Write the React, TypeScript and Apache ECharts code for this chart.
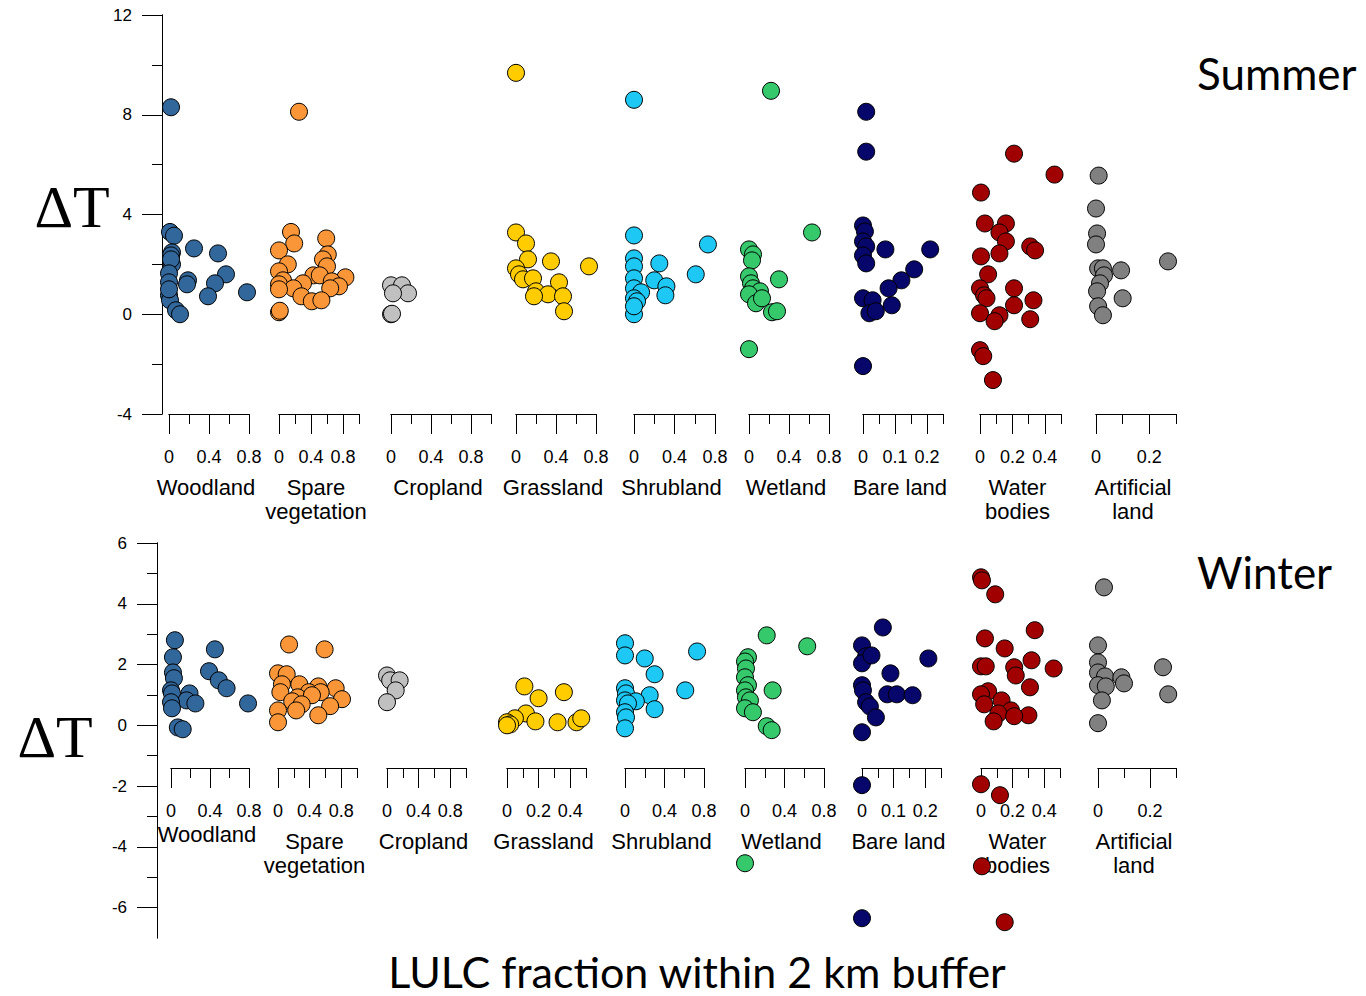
import React, { useEffect, useRef } from "react";
import * as echarts from "echarts";

// ---------------- DATA ----------------
const classNames = ["Woodland", "Spare\nvegetation", "Cropland", "Grassland", "Shrubland", "Wetland", "Bare land", "Water\nbodies", "Artificial\nland"];
const classColors = ["#32679C", "#FA9638", "#C0C0C0", "#FFCC00", "#1EC8F5", "#35C96B", "#06066B", "#A00000", "#808080"];

const summerXMax = [0.8, 1.0, 1.0, 0.8, 0.8, 0.8, 0.25, 0.5, 0.3];
const winterXMax = [0.8, 1.0, 1.0, 0.5, 0.8, 0.8, 0.25, 0.5, 0.3];

const summerMajorTicks = [
  [0, 0.4, 0.8], [0, 0.4, 0.8], [0, 0.4, 0.8], [0, 0.4, 0.8], [0, 0.4, 0.8],
  [0, 0.4, 0.8], [0, 0.1, 0.2], [0, 0.2, 0.4], [0, 0.2],
];
const summerMinorTicks = [
  [0.2, 0.6], [0.2, 0.6, 1.0], [0.2, 0.6, 1.0], [0.2, 0.6], [0.2, 0.6],
  [0.2, 0.6], [0.05, 0.15, 0.25], [0.1, 0.3, 0.5], [0.1, 0.3],
];
const winterMajorTicks = [
  [0, 0.4, 0.8], [0, 0.4, 0.8], [0, 0.4, 0.8], [0, 0.2, 0.4], [0, 0.4, 0.8],
  [0, 0.4, 0.8], [0, 0.1, 0.2], [0, 0.2, 0.4], [0, 0.2],
];
const winterMinorTicks = [
  [0.2, 0.6], [0.2, 0.6, 1.0], [0.2, 0.6, 1.0], [0.1, 0.3, 0.5], [0.2, 0.6],
  [0.2, 0.6], [0.05, 0.15, 0.25], [0.1, 0.3, 0.5], [0.1, 0.3],
];

const summerYMajor = [-4, 0, 4, 8, 12];
const summerYMinor = [-2, 2, 6, 10];
const winterYMajor = [-6, -4, -2, 0, 2, 4, 6];
const winterYMinor = [-5, -3, -1, 1, 3, 5];

const summerWoodland = [
  [0.02, 8.3], [0.01, 3.3], [0.05, 3.15], [0.25, 2.64], [0.49, 2.44], [0.03, 2.48], [0.02, 2.36],
  [0.03, 2.0], [0.02, 2.2], [0.57, 1.6], [0.0, 1.64], [0.19, 1.36], [0.18, 1.2], [0.46, 1.24],
  [0.0, 1.28], [0.78, 0.88], [0.39, 0.72], [0.0, 0.76], [0.01, 0.56], [0.0, 1.0], [0.07, 0.16], [0.11, 0.0],
];
const summerSpare = [
  [0.25, 8.12], [0.15, 3.3], [0.19, 2.84], [0.59, 3.04], [0.0, 2.56], [0.61, 2.4], [0.55, 2.2],
  [0.11, 2.0], [0.6, 1.92], [0.0, 1.72], [0.43, 1.56], [0.51, 1.56], [0.83, 1.48], [0.05, 1.36],
  [0.3, 1.24], [0.66, 1.32], [0.0, 1.2], [0.18, 1.04], [0.75, 1.12], [0.64, 1.04], [0.0, 1.0],
  [0.28, 0.72], [0.41, 0.52], [0.53, 0.56], [0.0, 0.08], [0.01, 0.14],
];
const summerCropland = [[0, 1.16], [0.11, 1.16], [0.17, 0.84], [0.02, 0.84], [0, 0], [0.01, 0.02]];
const summerGrassland = [
  [0, 9.68], [0, 3.28], [0.1, 2.84], [0.12, 2.2], [0.35, 2.12], [0.73, 1.92], [0, 1.84], [0.03, 1.6],
  [0.07, 1.4], [0.17, 1.44], [0.43, 1.28], [0.2, 0.92], [0.32, 0.8], [0.18, 0.72], [0.47, 0.72], [0.48, 0.12],
];
const summerShrubland = [
  [0, 8.6], [0, 3.16], [0.73, 2.8], [0, 2.24], [0.25, 2.04], [0, 1.92], [0.61, 1.6], [0, 1.44],
  [0.2, 1.36], [0.32, 1.12], [0, 1.04], [0.07, 0.88], [0, 0.64], [0.31, 0.76], [0.03, 0.52], [0, 0], [0, 0.32],
];
const summerWetland = [
  [0.22, 8.96], [0.63, 3.28], [0, 2.6], [0.04, 2.4], [0.03, 2.16], [0, 1.52], [0.3, 1.4], [0.02, 1.24],
  [0.04, 1.04], [0.11, 0.92], [0, 0.8], [0.07, 0.44], [0.13, 0.64], [0.23, 0.08], [0.28, 0.12], [0, -1.4],
];
const summerBare = [
  [0.01, 8.12], [0.01, 6.52], [0, 3.56], [0.006, 3.32], [0, 2.92], [0.01, 2.72], [0.07, 2.6], [0.21, 2.6],
  [0, 2.36], [0.01, 2.04], [0.16, 1.8], [0.12, 1.36], [0.08, 1.04], [0, 0.64], [0.03, 0.56], [0.09, 0.36],
  [0.02, 0.04], [0.04, 0.12], [0, -2.08],
];
const summerWater = [
  [0.21, 6.44], [0.46, 5.6], [0.006, 4.88], [0.03, 3.64], [0.16, 3.64], [0.12, 3.28], [0.16, 2.92],
  [0.31, 2.72], [0.34, 2.56], [0.12, 2.44], [0.006, 2.32], [0.05, 1.6], [0, 1.04], [0.21, 1.04],
  [0.025, 0.76], [0.04, 0.64], [0.33, 0.56], [0.21, 0.36], [0, 0.04], [0.12, -0.04], [0.09, -0.28],
  [0.31, -0.2], [0, -1.44], [0.02, -1.68], [0.08, -2.64],
];
const summerArtificial = [
  [0.01, 5.56], [0, 4.24], [0.004, 3.24], [0, 2.8], [0.27, 2.12], [0.008, 1.84], [0.026, 1.84],
  [0.094, 1.76], [0.03, 1.56], [0.015, 1.24], [0.004, 0.92], [0.1, 0.64], [0.008, 0.32], [0.026, -0.04],
];

const winterWoodland = [
  [0.04, 2.8], [0.02, 2.24], [0.45, 2.5], [0.39, 1.78], [0.49, 1.48], [0.02, 1.74], [0.03, 1.55],
  [0.57, 1.22], [0, 1.15], [0.01, 1.05], [0.19, 1.05], [0.16, 0.82], [0, 0.76], [0.25, 0.72],
  [0.79, 0.72], [0.01, 0.56], [0.07, -0.07], [0.12, -0.13],
];
const winterSpare = [
  [0.14, 2.66], [0.59, 2.5], [0, 1.71], [0.11, 1.68], [0.05, 1.35], [0.27, 1.35], [0.51, 1.28],
  [0.73, 1.22], [0.03, 1.09], [0.39, 1.09], [0.54, 1.09], [0.25, 0.92], [0.43, 0.99], [0.81, 0.86],
  [0.18, 0.79], [0.3, 0.69], [0, 0.49], [0.66, 0.63], [0.51, 0.33], [0, 0.1], [0.23, 0.49],
];
const winterCropland = [[0, 1.64], [0.04, 1.48], [0.16, 1.48], [0.11, 1.15], [0, 0.76]];
const winterGrassland = [
  [0.11, 1.28], [0.2, 0.89], [0.36, 1.09], [0.12, 0.39], [0.05, 0.23], [0, 0.1], [0.02, 0.03],
  [0.18, 0.13], [0.32, 0.1], [0.44, 0.1], [0.47, 0.23], [0, 0],
];
const winterShrubland = [
  [0, 2.7], [0, 2.3], [0.2, 2.2], [0.73, 2.43], [0.3, 1.68], [0.61, 1.15], [0, 1.22], [0.01, 1.05],
  [0.25, 0.99], [0, 0.82], [0.11, 0.79], [0.3, 0.53], [0.03, 0.72], [0, 0.43], [0.01, 0.26], [0, -0.1],
];
const winterWetland = [
  [0.22, 2.96], [0.63, 2.6], [0.03, 2.24], [0, 2.1], [0.01, 1.87], [0, 1.58], [0.03, 1.32], [0.28, 1.15],
  [0, 1.15], [0.01, 0.92], [0.05, 0.82], [0, 0.56], [0.08, 0.43], [0.22, -0.03], [0.27, -0.16], [0, -4.54],
];
const winterBare = [
  [0.066, 3.22], [0, 2.63], [0.013, 2.27], [0, 2.04], [0.21, 2.2], [0.03, 2.3], [0.09, 1.71], [0, 1.32],
  [0.003, 1.15], [0.08, 1.02], [0.11, 1.02], [0.16, 0.99], [0.013, 0.76], [0.025, 0.62], [0.044, 0.26],
  [0, -0.23], [0, -1.97], [0, -6.35],
];
const winterWater = [
  [0, 4.87], [0.006, 4.77], [0.09, 4.31], [0.34, 3.13], [0.025, 2.86], [0.15, 2.53], [0.32, 2.14],
  [0.46, 1.87], [0, 1.94], [0.03, 1.94], [0.21, 1.91], [0.22, 1.64], [0.31, 1.25], [0.045, 1.12],
  [0, 1.02], [0.13, 0.82], [0.02, 0.69], [0.19, 0.49], [0.11, 0.39], [0.3, 0.33], [0.21, 0.3],
  [0.08, 0.13], [0, -1.94], [0.12, -2.3], [0.006, -4.64], [0.15, -6.48],
];
const winterArtificial = [
  [0.023, 4.54], [0, 2.63], [0.25, 1.91], [0, 2.07], [0, 1.74], [0.027, 1.61], [0.09, 1.58], [0.1, 1.38],
  [0, 1.32], [0.03, 1.28], [0.27, 1.02], [0.015, 0.82], [0, 0.07],
];

const summerData = [summerWoodland, summerSpare, summerCropland, summerGrassland, summerShrubland, summerWetland, summerBare, summerWater, summerArtificial];
const winterData = [winterWoodland, winterSpare, winterCropland, winterGrassland, winterShrubland, winterWetland, winterBare, winterWater, winterArtificial];

// ---------------- LAYOUT ----------------
const summerLayout = {
  yAxisX: 162, top: 15, height: 399, yMin: -4, yMax: 12, axisOffset: 0,
  left: [169, 279, 391, 516, 634, 749, 863, 980, 1096],
  right: [249, 359, 491, 596, 715, 829, 943, 1061, 1176],
  nameGap: [61, 61, 61, 61, 61, 61, 61, 61, 61],
};
const winterLayout = {
  yAxisX: 157, top: 543, height: 395, yMin: -7, yMax: 6, axisOffset: -170,
  left: [171, 278, 387, 507, 625, 745, 862, 981, 1098],
  right: [249, 357, 466, 586, 704, 824, 941, 1060, 1176],
  nameGap: [54, 61, 61, 61, 61, 61, 61, 61, 61],
};

const FONT = "'Liberation Sans', Arial, sans-serif";
const black = "#000";

function buildOption() {
  const grid: any[] = [];
  const xAxis: any[] = [];
  const yAxis: any[] = [];
  const series: any[] = [];

  const addPanel = (L: any, xMax: number[], majors: number[][], minors: number[][], data: number[][][], yMaj: number[], yMin: number[]) => {
    const gi = grid.length;
    grid.push({ left: L.yAxisX, top: L.top, width: 10, height: L.height, containLabel: false, outerBoundsMode: "none" });
    xAxis.push({ gridIndex: gi, type: "value", show: false, min: 0, max: 1 });
    const yBase = {
      gridIndex: gi, type: "value", min: L.yMin, max: L.yMax, position: "left",
      axisLine: { show: true, onZero: false, lineStyle: { color: black, width: 1 } },
      splitLine: { show: false },
    };
    yAxis.push({
      ...yBase,
      axisTick: { show: true, inside: false, length: 20, customValues: yMaj, lineStyle: { color: black, width: 1 } },
      axisLabel: { show: true, customValues: yMaj, margin: 30, fontSize: 17, color: black, fontFamily: FONT },
    });
    yAxis.push({
      ...yBase,
      axisTick: { show: true, inside: false, length: 10, customValues: yMin, lineStyle: { color: black, width: 1 } },
      axisLabel: { show: false },
    });

    for (let k = 0; k < 9; k++) {
      const g = grid.length;
      grid.push({
        left: L.left[k], top: L.top, width: L.right[k] - L.left[k], height: L.height,
        containLabel: false, outerBoundsMode: "none",
      });
      const xBase = {
        gridIndex: g, type: "value", min: 0, max: xMax[k], position: "bottom", offset: L.axisOffset,
        axisLine: { show: true, onZero: false, lineStyle: { color: black, width: 1 } },
        splitLine: { show: false },
      };
      const xa = xAxis.length;
      xAxis.push({
        ...xBase,
        axisTick: { show: true, inside: false, length: 10, customValues: minors[k], lineStyle: { color: black, width: 1 } },
        axisLabel: { show: false },
      });
      xAxis.push({
        ...xBase,
        axisTick: { show: true, inside: false, length: 20, customValues: majors[k], lineStyle: { color: black, width: 1 } },
        axisLabel: { show: true, customValues: majors[k], margin: 34, fontSize: 18, color: black, fontFamily: FONT },
        name: classNames[k], nameLocation: "middle", nameGap: L.nameGap[k],
        nameTextStyle: { fontSize: 22, lineHeight: 24, color: black, fontFamily: FONT, padding: [0, 6, 0, 0] },
      });
      const ya = yAxis.length;
      yAxis.push({ gridIndex: g, type: "value", show: false, min: L.yMin, max: L.yMax, axisLine: { onZero: false } });
      series.push({
        type: "scatter", xAxisIndex: xa, yAxisIndex: ya, data: data[k], clip: false,
        symbol: "circle", symbolSize: 17,
        itemStyle: { color: classColors[k], borderColor: black, borderWidth: 1, opacity: 1 },
        z: 5,
      });
    }
  };

  addPanel(summerLayout, summerXMax, summerMajorTicks, summerMinorTicks, summerData, summerYMajor, summerYMinor);
  addPanel(winterLayout, winterXMax, winterMajorTicks, winterMinorTicks, winterData, winterYMajor, winterYMinor);

  const graphic = [
    { type: "text", x: 72, y: 207, style: { text: "ΔT", fontSize: 60, fontFamily: "'Liberation Serif', serif", fill: black, align: "center", verticalAlign: "middle" } },
    { type: "text", x: 55, y: 737, style: { text: "ΔT", fontSize: 60, fontFamily: "'Liberation Serif', serif", fill: black, align: "center", verticalAlign: "middle" } },
    { type: "text", x: 1197, y: 73, style: { text: "Summer", fontSize: 44, fontFamily: "Lato, sans-serif", fill: black, align: "left", verticalAlign: "middle" } },
    { type: "text", x: 1197, y: 572, style: { text: "Winter", fontSize: 44, fontFamily: "Lato, sans-serif", fill: black, align: "left", verticalAlign: "middle" } },
    { type: "text", x: 697, y: 971, style: { text: "LULC fraction within 2 km buffer", fontSize: 43, fontFamily: "Lato, sans-serif", fill: black, align: "center", verticalAlign: "middle" } },
  ];

  return {
    animation: false,
    backgroundColor: "#fff",
    grid, xAxis, yAxis, series, graphic,
  };
}

export default function App() {
  const ref = useRef<HTMLDivElement>(null);
  useEffect(() => {
    if (!ref.current) return;
    const chart = echarts.init(ref.current, null, { renderer: "svg" });
    chart.setOption(buildOption() as any);
    return () => chart.dispose();
  }, []);
  return <div ref={ref} style={{ position: "fixed", left: 0, top: 0, width: 1366, height: 996, background: "#fff" }} />;
}
